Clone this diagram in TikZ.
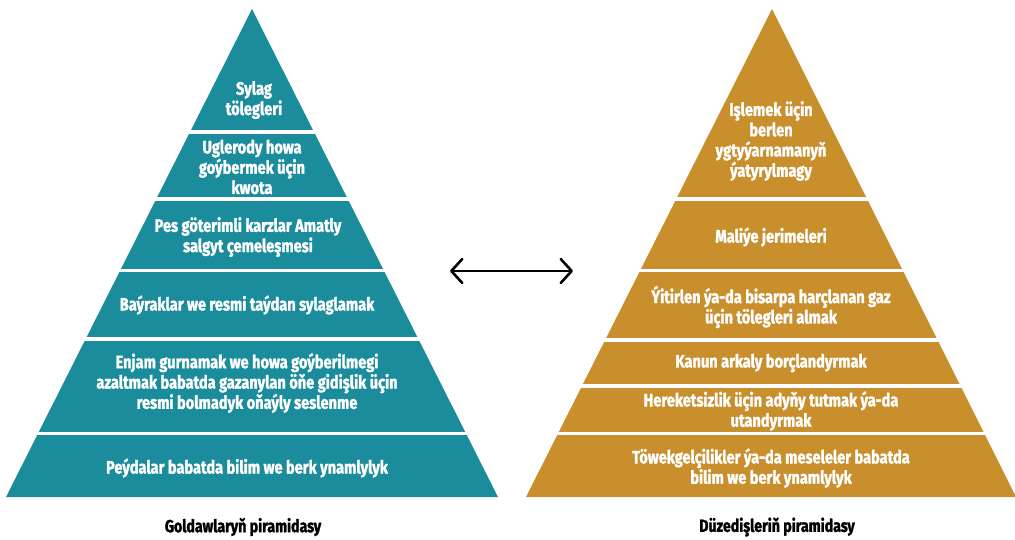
\documentclass[tikz,border=0pt]{standalone}
\usepackage{fontspec}
\setmainfont[FakeStretch=0.81, BoldFeatures={FakeBold=1.6}]{Fira Sans}
\usetikzlibrary{arrows.meta}
\definecolor{tealc}{RGB}{26,140,156}
\definecolor{goldc}{RGB}{201,143,45}
\tikzset{
  bandtext/.style={text=white, align=center, inner sep=0pt,
    font=\fontsize{18}{20.3}\selectfont\bfseries},
  titletext/.style={text=black, align=center, inner sep=0pt,
    font=\fontsize{17.5}{20}\selectfont\bfseries},
  sep/.style={white, line width=3.6pt},
}
\begin{document}
\begin{tikzpicture}[x=1pt,y=-1pt]
\useasboundingbox (0,0) rectangle (1015,539);
% left pyramid
\coordinate (LA) at (252,9);
\coordinate (LL) at (6,497);
\coordinate (LR) at (498,497);
\fill[tealc] (LA) -- (LR) -- (LL) -- cycle;
\foreach \y in {132,199,270.5,339,433.5}{
  \draw[sep] (0,\y) -- (510,\y);
}
% right pyramid
\coordinate (RA) at (772,9);
\coordinate (RL) at (526,497);
\coordinate (RR) at (1016,497);
\fill[goldc] (RA) -- (RR) -- (RL) -- cycle;
\foreach \y in {199,270.5,340,386,433.5}{
  \draw[sep] (515,\y) -- (1015,\y);
}
% left texts
\node[bandtext] (l1) at (254,100) {Sylag\\tölegleri};
\node[bandtext] (l2) at (252,167) {Uglerody howa\\goýbermek üçin\\kwota};
\node[bandtext] (l3) at (248,237) {Pes göterimli karzlar Amatly\\salgyt çemeleşmesi};
\node[bandtext] (l4) at (247,305) {Baýraklar we resmi taýdan sylaglamak};
\node[bandtext] (l5) at (247,383) {Enjam gurnamak we howa goýberilmegi\\azaltmak babatda gazanylan öňe gidişlik üçin\\resmi bolmadyk oňaýly seslenme};
\node[bandtext] (l6) at (247,468) {Peýdalar babatda bilim we berk ynamlylyk};
% right texts
\node[bandtext] (r1) at (771,141) {Işlemek üçin\\berlen\\ygtyýarnamanyň\\ýatyrylmagy};
\node[bandtext] (r2) at (771,237) {Maliýe jerimeleri};
\node[bandtext] (r3) at (771,307) {Ýitirlen ýa-da bisarpa harçlanan gaz\\üçin tölegleri almak};
\node[bandtext] (r4) at (771,363) {Kanun arkaly borçlandyrmak};
\node[bandtext] (r5) at (771,411) {Hereketsizlik üçin adyňy tutmak ýa-da\\utandyrmak};
\node[bandtext] (r6) at (771,468) {Töwekgelçilikler ýa-da meseleler babatda\\bilim we berk ynamlylyk};
% titles
\node[titletext] (t1) at (243,527) {Goldawlaryň piramidasy};
\node[titletext] (t2) at (777,527) {Düzedişleriň piramidasy};
% arrow
\coordinate (a1) at (450,271);
\coordinate (a2) at (573,271);
\draw[line width=2.6pt, line cap=round,
  {Straight Barb[length=11pt,width=24pt,line width=2.6pt,round]}-{Straight Barb[length=11pt,width=24pt,line width=2.6pt,round]}]
  (a1) -- (a2);
\end{tikzpicture}
\end{document}
